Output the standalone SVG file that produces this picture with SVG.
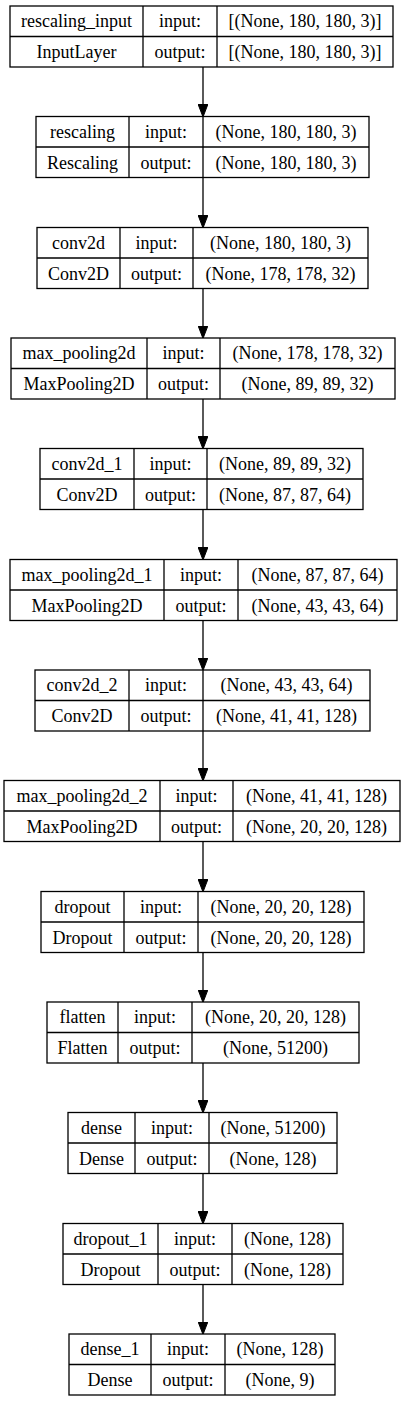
<svg xmlns="http://www.w3.org/2000/svg" width="405" height="1401" viewBox="0 0 405 1401">
<style>
rect.b{fill:#fff;stroke:#000;stroke-width:1.3}
line.d{stroke:#000;stroke-width:1.3}
text{font-family:"Liberation Serif","Times New Roman",serif;font-size:18px;fill:#000;text-anchor:middle}
.e{stroke:#000;stroke-width:1.3;fill:none;marker-end:url(#ah)}
</style>
<defs>
<marker id="ah" viewBox="0 0 13 10" refX="0.5" refY="5" markerWidth="13" markerHeight="10" markerUnits="userSpaceOnUse" orient="auto">
<path d="M0,0 L13,5 L0,10 z" fill="#000" stroke="#000" stroke-width="1"/>
</marker>
</defs>
<rect width="405" height="1401" fill="#fff"/>
<g id="edges">
<line class="e" x1="203" y1="67" x2="203" y2="104.5"/>
<line class="e" x1="203" y1="177.5" x2="203" y2="215.5"/>
<line class="e" x1="203" y1="288.5" x2="203" y2="326"/>
<line class="e" x1="203" y1="399" x2="203" y2="436.5"/>
<line class="e" x1="203" y1="509.5" x2="203" y2="547.5"/>
<line class="e" x1="203" y1="620.5" x2="203" y2="658"/>
<line class="e" x1="203" y1="731" x2="203" y2="768.5"/>
<line class="e" x1="203" y1="841.5" x2="203" y2="879.5"/>
<line class="e" x1="203" y1="952.5" x2="203" y2="990"/>
<line class="e" x1="203" y1="1063" x2="203" y2="1100.5"/>
<line class="e" x1="203" y1="1173.5" x2="203" y2="1211.5"/>
<line class="e" x1="203" y1="1284.5" x2="203" y2="1322"/>
</g>
<g id="n1">
<rect class="b" x="10" y="6" width="383" height="61"/>
<line class="d" x1="10" y1="36.5" x2="393" y2="36.5"/>
<line class="d" x1="143" y1="6" x2="143" y2="67"/>
<line class="d" x1="217" y1="6" x2="217" y2="67"/>
<text x="76.5" y="27">rescaling_input</text><text x="180" y="27">input:</text><text x="305" y="27">[(None, 180, 180, 3)]</text>
<text x="76.5" y="58">InputLayer</text><text x="180" y="58">output:</text><text x="305" y="58">[(None, 180, 180, 3)]</text>
</g>
<g id="n2">
<rect class="b" x="36" y="116.5" width="333" height="61"/>
<line class="d" x1="36" y1="147" x2="369" y2="147"/>
<line class="d" x1="129" y1="116.5" x2="129" y2="177.5"/>
<line class="d" x1="203" y1="116.5" x2="203" y2="177.5"/>
<text x="82.5" y="137.5">rescaling</text><text x="166" y="137.5">input:</text><text x="286" y="137.5">(None, 180, 180, 3)</text>
<text x="82.5" y="168.5">Rescaling</text><text x="166" y="168.5">output:</text><text x="286" y="168.5">(None, 180, 180, 3)</text>
</g>
<g id="n3">
<rect class="b" x="37" y="227.5" width="331" height="61"/>
<line class="d" x1="37" y1="258" x2="368" y2="258"/>
<line class="d" x1="120" y1="227.5" x2="120" y2="288.5"/>
<line class="d" x1="193" y1="227.5" x2="193" y2="288.5"/>
<text x="78.5" y="248.5">conv2d</text><text x="156.5" y="248.5">input:</text><text x="280.5" y="248.5">(None, 180, 180, 3)</text>
<text x="78.5" y="279.5">Conv2D</text><text x="156.5" y="279.5">output:</text><text x="280.5" y="279.5">(None, 178, 178, 32)</text>
</g>
<g id="n4">
<rect class="b" x="11" y="338" width="384" height="61"/>
<line class="d" x1="11" y1="368.5" x2="395" y2="368.5"/>
<line class="d" x1="147" y1="338" x2="147" y2="399"/>
<line class="d" x1="220" y1="338" x2="220" y2="399"/>
<text x="79" y="359">max_pooling2d</text><text x="183.5" y="359">input:</text><text x="307.5" y="359">(None, 178, 178, 32)</text>
<text x="79" y="390">MaxPooling2D</text><text x="183.5" y="390">output:</text><text x="307.5" y="390">(None, 89, 89, 32)</text>
</g>
<g id="n5">
<rect class="b" x="40" y="448.5" width="323" height="61"/>
<line class="d" x1="40" y1="479" x2="363" y2="479"/>
<line class="d" x1="134" y1="448.5" x2="134" y2="509.5"/>
<line class="d" x1="207" y1="448.5" x2="207" y2="509.5"/>
<text x="87" y="469.5">conv2d_1</text><text x="170.5" y="469.5">input:</text><text x="285" y="469.5">(None, 89, 89, 32)</text>
<text x="87" y="500.5">Conv2D</text><text x="170.5" y="500.5">output:</text><text x="285" y="500.5">(None, 87, 87, 64)</text>
</g>
<g id="n6">
<rect class="b" x="10" y="559.5" width="387" height="61"/>
<line class="d" x1="10" y1="590" x2="397" y2="590"/>
<line class="d" x1="164" y1="559.5" x2="164" y2="620.5"/>
<line class="d" x1="238" y1="559.5" x2="238" y2="620.5"/>
<text x="87" y="580.5">max_pooling2d_1</text><text x="201" y="580.5">input:</text><text x="317.5" y="580.5">(None, 87, 87, 64)</text>
<text x="87" y="611.5">MaxPooling2D</text><text x="201" y="611.5">output:</text><text x="317.5" y="611.5">(None, 43, 43, 64)</text>
</g>
<g id="n7">
<rect class="b" x="35" y="670" width="335" height="61"/>
<line class="d" x1="35" y1="700.5" x2="370" y2="700.5"/>
<line class="d" x1="129" y1="670" x2="129" y2="731"/>
<line class="d" x1="203" y1="670" x2="203" y2="731"/>
<text x="82" y="691">conv2d_2</text><text x="166" y="691">input:</text><text x="286.5" y="691">(None, 43, 43, 64)</text>
<text x="82" y="722">Conv2D</text><text x="166" y="722">output:</text><text x="286.5" y="722">(None, 41, 41, 128)</text>
</g>
<g id="n8">
<rect class="b" x="4" y="780.5" width="396" height="61"/>
<line class="d" x1="4" y1="811" x2="400" y2="811"/>
<line class="d" x1="160" y1="780.5" x2="160" y2="841.5"/>
<line class="d" x1="233" y1="780.5" x2="233" y2="841.5"/>
<text x="82" y="801.5">max_pooling2d_2</text><text x="196.5" y="801.5">input:</text><text x="316.5" y="801.5">(None, 41, 41, 128)</text>
<text x="82" y="832.5">MaxPooling2D</text><text x="196.5" y="832.5">output:</text><text x="316.5" y="832.5">(None, 20, 20, 128)</text>
</g>
<g id="n9">
<rect class="b" x="41" y="891.5" width="323" height="61"/>
<line class="d" x1="41" y1="922" x2="364" y2="922"/>
<line class="d" x1="124" y1="891.5" x2="124" y2="952.5"/>
<line class="d" x1="198" y1="891.5" x2="198" y2="952.5"/>
<text x="82.5" y="912.5">dropout</text><text x="161" y="912.5">input:</text><text x="281" y="912.5">(None, 20, 20, 128)</text>
<text x="82.5" y="943.5">Dropout</text><text x="161" y="943.5">output:</text><text x="281" y="943.5">(None, 20, 20, 128)</text>
</g>
<g id="n10">
<rect class="b" x="47" y="1002" width="312" height="61"/>
<line class="d" x1="47" y1="1032.5" x2="359" y2="1032.5"/>
<line class="d" x1="118" y1="1002" x2="118" y2="1063"/>
<line class="d" x1="192" y1="1002" x2="192" y2="1063"/>
<text x="82.5" y="1023">flatten</text><text x="155" y="1023">input:</text><text x="275.5" y="1023">(None, 20, 20, 128)</text>
<text x="82.5" y="1054">Flatten</text><text x="155" y="1054">output:</text><text x="275.5" y="1054">(None, 51200)</text>
</g>
<g id="n11">
<rect class="b" x="68" y="1112.5" width="269" height="61"/>
<line class="d" x1="68" y1="1143" x2="337" y2="1143"/>
<line class="d" x1="135" y1="1112.5" x2="135" y2="1173.5"/>
<line class="d" x1="209" y1="1112.5" x2="209" y2="1173.5"/>
<text x="101.5" y="1133.5">dense</text><text x="172" y="1133.5">input:</text><text x="273" y="1133.5">(None, 51200)</text>
<text x="101.5" y="1164.5">Dense</text><text x="172" y="1164.5">output:</text><text x="273" y="1164.5">(None, 128)</text>
</g>
<g id="n12">
<rect class="b" x="63" y="1223.5" width="280" height="61"/>
<line class="d" x1="63" y1="1254" x2="343" y2="1254"/>
<line class="d" x1="158" y1="1223.5" x2="158" y2="1284.5"/>
<line class="d" x1="232" y1="1223.5" x2="232" y2="1284.5"/>
<text x="110.5" y="1244.5">dropout_1</text><text x="195" y="1244.5">input:</text><text x="287.5" y="1244.5">(None, 128)</text>
<text x="110.5" y="1275.5">Dropout</text><text x="195" y="1275.5">output:</text><text x="287.5" y="1275.5">(None, 128)</text>
</g>
<g id="n13">
<rect class="b" x="69" y="1334" width="266" height="61"/>
<line class="d" x1="69" y1="1364.5" x2="335" y2="1364.5"/>
<line class="d" x1="151" y1="1334" x2="151" y2="1395"/>
<line class="d" x1="225" y1="1334" x2="225" y2="1395"/>
<text x="110" y="1355">dense_1</text><text x="188" y="1355">input:</text><text x="280" y="1355">(None, 128)</text>
<text x="110" y="1386">Dense</text><text x="188" y="1386">output:</text><text x="280" y="1386">(None, 9)</text>
</g>
</svg>
